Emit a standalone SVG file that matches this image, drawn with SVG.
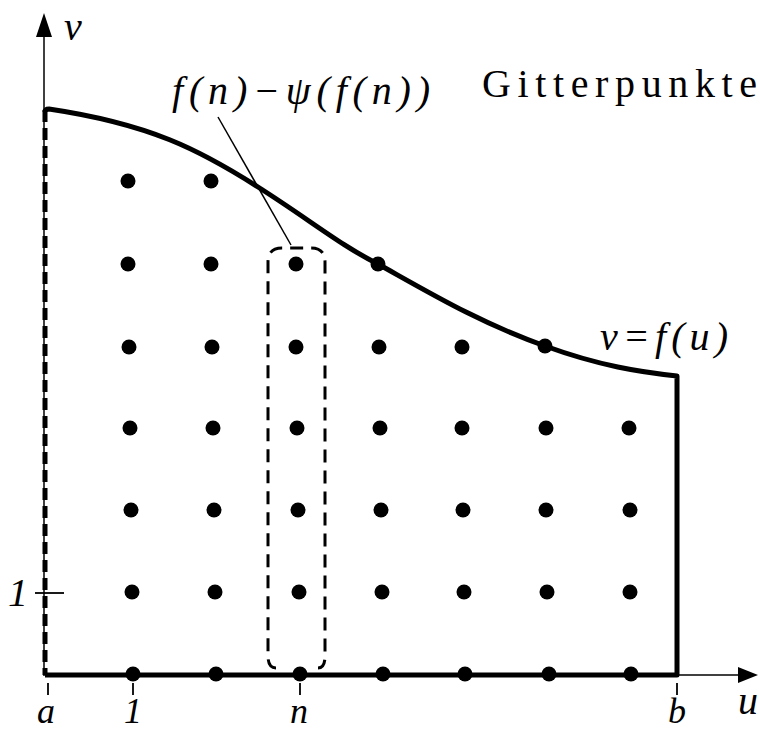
<svg xmlns="http://www.w3.org/2000/svg" width="760" height="733" viewBox="0 0 760 733">
<style>
.dot{fill:#000}
.thin{stroke:#000;stroke-width:1.5;fill:none}
.tick{stroke:#000;stroke-width:1.8}
.it{font-family:"Liberation Serif",serif;font-style:italic;font-size:40px;fill:#000}
.lb{font-family:"Liberation Serif",serif;font-style:italic;font-size:36px;fill:#000}
.up{font-family:"Liberation Serif",serif;font-size:40px;fill:#000}
</style>
<rect width="760" height="733" fill="#fff"/>
<g id="axes">
<line class="thin" x1="44" y1="676" x2="44" y2="30"/>
<polygon points="44,13 36,37 52,37" fill="#000"/>
<line class="thin" x1="45" y1="675" x2="742" y2="675"/>
<polygon points="758,675 738,667 738,683" fill="#000"/>
<line class="tick" x1="48" y1="683" x2="48" y2="695"/>
<line class="tick" x1="133" y1="683" x2="133" y2="695"/>
<line class="tick" x1="300" y1="683" x2="300" y2="695"/>
<line class="tick" x1="677" y1="683" x2="677" y2="695"/>
<line class="tick" x1="35" y1="593" x2="64" y2="593"/>
<text class="it" x="64" y="40">v</text>
<text class="it" x="8" y="606">1</text>
<text class="lb" x="37" y="723">a</text>
<text class="lb" x="124" y="723">1</text>
<text class="lb" x="290" y="723">n</text>
<text class="lb" x="668" y="723">b</text>
<text class="it" x="738" y="714">u</text>
</g>
<g id="region">
<line x1="45" y1="110" x2="45" y2="675" stroke="#000" stroke-width="5" stroke-dasharray="12 6"/>
<path d="M45,112 Q45,109 49,109 C150,124 200,150 258,187 C310,220 340,245 378,264 C430,293 480,323 545,346 C600,366 640,372 677,376 L677,675 L45,675" fill="none" stroke="#000" stroke-width="5" stroke-linejoin="round"/>
<text class="it" x="600" y="350" textLength="128" lengthAdjust="spacing">v=f(u)</text>
</g>
<g id="points">
<circle class="dot" cx="128" cy="181" r="7.5"/><circle class="dot" cx="211" cy="181" r="7.5"/>
<circle class="dot" cx="128" cy="264" r="7.5"/><circle class="dot" cx="211" cy="264" r="7.5"/><circle class="dot" cx="296" cy="264" r="7.5"/><circle class="dot" cx="378" cy="264" r="7.5"/>
<circle class="dot" cx="129" cy="347" r="7.5"/><circle class="dot" cx="212" cy="347" r="7.5"/><circle class="dot" cx="296" cy="347" r="7.5"/><circle class="dot" cx="379" cy="347" r="7.5"/><circle class="dot" cx="462" cy="347" r="7.5"/><circle class="dot" cx="545" cy="346" r="7.5"/>
<circle class="dot" cx="130" cy="428" r="7.5"/><circle class="dot" cx="213" cy="428" r="7.5"/><circle class="dot" cx="297" cy="428" r="7.5"/><circle class="dot" cx="380" cy="428" r="7.5"/><circle class="dot" cx="462" cy="428" r="7.5"/><circle class="dot" cx="546" cy="428" r="7.5"/><circle class="dot" cx="629" cy="428" r="7.5"/>
<circle class="dot" cx="131" cy="510" r="7.5"/><circle class="dot" cx="214" cy="510" r="7.5"/><circle class="dot" cx="298" cy="510" r="7.5"/><circle class="dot" cx="381" cy="510" r="7.5"/><circle class="dot" cx="463" cy="510" r="7.5"/><circle class="dot" cx="546" cy="510" r="7.5"/><circle class="dot" cx="630" cy="510" r="7.5"/>
<circle class="dot" cx="132" cy="592" r="7.5"/><circle class="dot" cx="215" cy="592" r="7.5"/><circle class="dot" cx="299" cy="592" r="7.5"/><circle class="dot" cx="382" cy="592" r="7.5"/><circle class="dot" cx="464" cy="592" r="7.5"/><circle class="dot" cx="547" cy="592" r="7.5"/><circle class="dot" cx="630" cy="592" r="7.5"/>
<circle class="dot" cx="133" cy="674" r="7.5"/><circle class="dot" cx="216" cy="674" r="7.5"/><circle class="dot" cx="300" cy="674" r="7.5"/><circle class="dot" cx="383" cy="674" r="7.5"/><circle class="dot" cx="465" cy="674" r="7.5"/><circle class="dot" cx="549" cy="674" r="7.5"/><circle class="dot" cx="631" cy="674" r="7.5"/>
</g>
<g id="column-n">
<path d="M276,668 Q268,668 268,656 L268,262 Q268,248 282,248 L311,248 Q325,248 325,262 L325,656 Q325,668 318,668" fill="none" stroke="#000" stroke-width="3" stroke-dasharray="13 8"/>
</g>
<g id="labels">
<line class="thin" x1="218" y1="117" x2="291" y2="245"/>
<text class="it" x="172" y="104" textLength="258" lengthAdjust="spacing">f(n)−ψ(f(n))</text>
<text class="up" x="482" y="97" textLength="275" lengthAdjust="spacing">Gitterpunkte</text>
</g>
</svg>
